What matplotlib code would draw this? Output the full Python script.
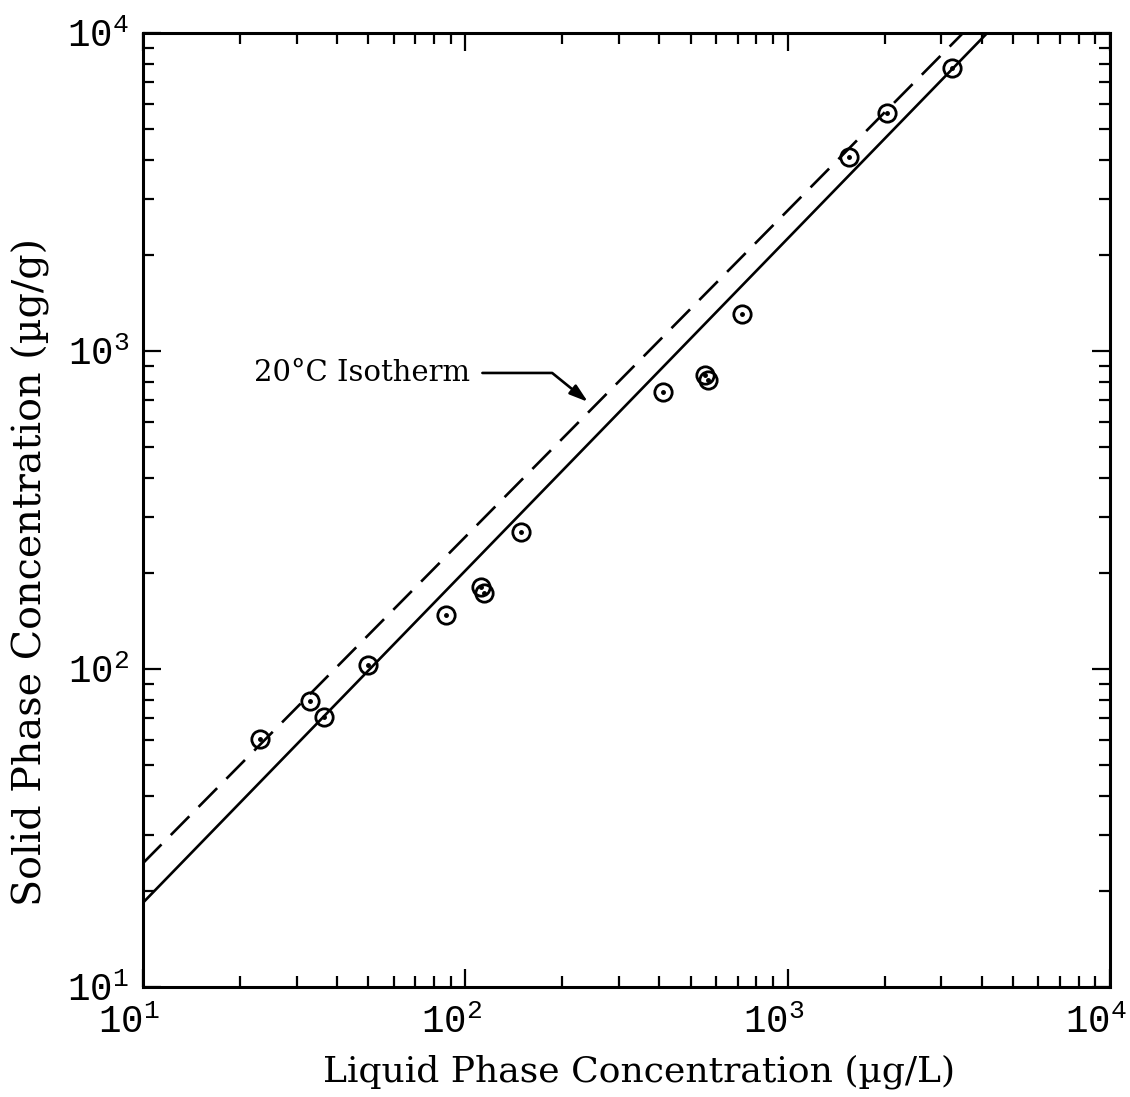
import math
import matplotlib.pyplot as plt
import matplotlib.ticker as mticker
import matplotlib.transforms as mtrans

# measured adsorption data (liquid ug/L, solid ug/g)
liquid = [23.0, 33.0, 36.5, 50.0, 87.1, 111.9, 114.3, 148.9,
          410, 555, 566, 722, 1552, 2028, 3228]
solid = [60.1, 79.1, 70.5, 102.7, 147.9, 181, 173.4, 269.8,
         743, 841, 811, 1306, 4083, 5584, 7748]

# fitted isotherm lines (end points)
fit_x = [10, 4160]
fit_y = [18.4, 10000]
iso20_x = [10, 3500]
iso20_y = [24.5, 10000]

plt.rcParams['mathtext.fontset'] = 'custom'
plt.rcParams['mathtext.rm'] = 'Liberation Mono'
plt.rcParams['mathtext.it'] = 'Liberation Mono'

fig = plt.figure(figsize=(11.3, 10.97), dpi=100)
ax = fig.add_axes([0.1265, 0.1003, 0.8558, 0.8696])

ax.plot(fit_x, fit_y, color='black', lw=1.9)
ax.plot(iso20_x, iso20_y, color='black', lw=1.9, dashes=(10, 5))

ax.plot(liquid, solid, 'o', ms=12.5, mfc='none', mec='black', mew=2)
ax.plot(liquid, solid, 'o', ms=2.5, color='black')

ax.set_xscale('log')
ax.set_yscale('log')
ax.set_xlim(10, 1e4)
ax.set_ylim(10, 1e4)

fmt = mticker.FuncFormatter(lambda v, p: r'$10^{%d}$' % round(math.log10(v)))
ax.xaxis.set_major_formatter(fmt)
ax.yaxis.set_major_formatter(fmt)
ax.xaxis.set_minor_formatter(mticker.NullFormatter())
ax.yaxis.set_minor_formatter(mticker.NullFormatter())

ax.tick_params(which='both', direction='in', top=True, right=True, width=1.6)
ax.tick_params(which='major', length=13, labelsize=27, pad=10)
ax.tick_params(which='minor', length=8)
for s in ax.spines.values():
    s.set_linewidth(2.2)

# x tick labels sit a little left of their ticks
shift = mtrans.ScaledTranslation(-10 / 72, -2 / 72, fig.dpi_scale_trans)
for lab in ax.get_xticklabels():
    lab.set_transform(lab.get_transform() + shift)

ax.set_xlabel('Liquid Phase Concentration (\u00b5g/L)', family='DejaVu Serif',
              fontsize=26)
ax.set_ylabel('Solid Phase Concentration (\u00b5g/g)', family='DejaVu Serif',
              fontsize=28.5)
ax.xaxis.set_label_coords(0.513, -0.071)
ax.yaxis.set_label_coords(-0.096, 0.435)

ax.text(103.4, 853, '20\u00b0C Isotherm', family='DejaVu Serif', fontsize=21,
        ha='right', va='center')
ax.annotate('', xy=(240, 692), xytext=(113, 853),
            arrowprops=dict(arrowstyle='-|>,head_length=1.1,head_width=0.35',
                            color='black', lw=1.9, shrinkA=0, shrinkB=0,
                            connectionstyle='angle,angleA=0,angleB=141,rad=0'))

plt.savefig('out.png', dpi=100)
